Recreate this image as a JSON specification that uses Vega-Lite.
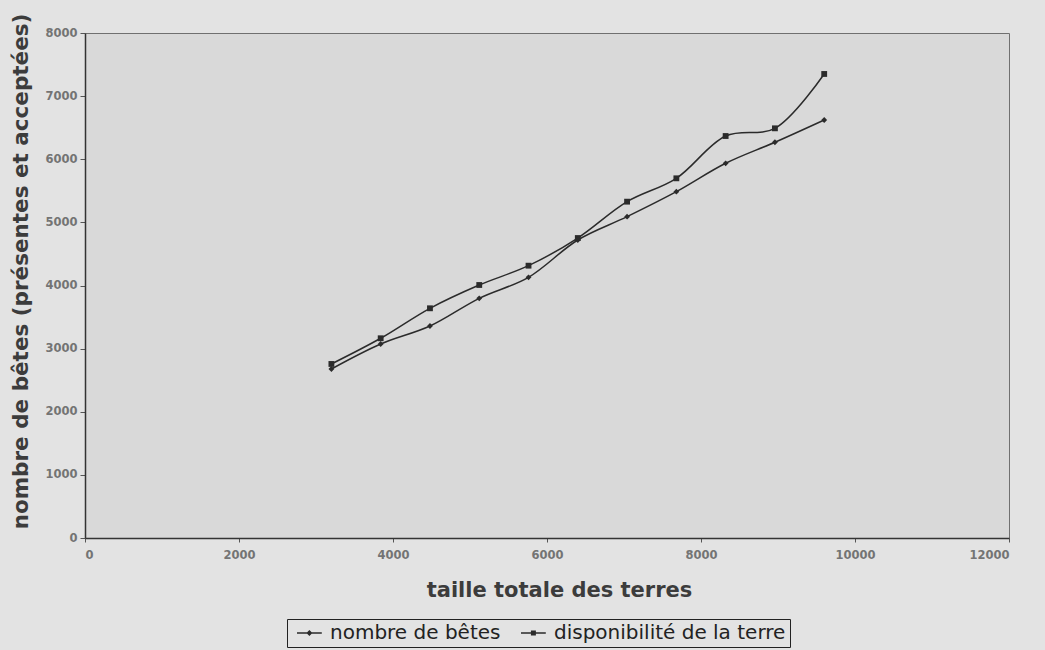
{
  "$schema": "https://vega.github.io/schema/vega-lite/v6.json",
  "width": 924,
  "height": 505,
  "autosize": {"type": "none"},
  "padding": {"left": 85, "top": 33, "right": 36, "bottom": 112},
  "background": "#e3e3e3",
  "config": {
    "view": {"fill": "#d9d9d9", "stroke": "#707070", "strokeWidth": 1},
    "font": "DejaVu Sans"
  },
  "data": {
    "values": [
      {"taille": 3200, "serie": "nombre de bêtes", "valeur": 2677},
      {"taille": 3840, "serie": "nombre de bêtes", "valeur": 3073},
      {"taille": 4480, "serie": "nombre de bêtes", "valeur": 3358},
      {"taille": 5120, "serie": "nombre de bêtes", "valeur": 3797},
      {"taille": 5760, "serie": "nombre de bêtes", "valeur": 4130},
      {"taille": 6400, "serie": "nombre de bêtes", "valeur": 4721},
      {"taille": 7040, "serie": "nombre de bêtes", "valeur": 5090},
      {"taille": 7680, "serie": "nombre de bêtes", "valeur": 5486},
      {"taille": 8320, "serie": "nombre de bêtes", "valeur": 5936},
      {"taille": 8960, "serie": "nombre de bêtes", "valeur": 6269},
      {"taille": 9600, "serie": "nombre de bêtes", "valeur": 6622},
      {"taille": 3200, "serie": "disponibilité de la terre", "valeur": 2757},
      {"taille": 3840, "serie": "disponibilité de la terre", "valeur": 3164},
      {"taille": 4480, "serie": "disponibilité de la terre", "valeur": 3639},
      {"taille": 5120, "serie": "disponibilité de la terre", "valeur": 4008},
      {"taille": 5760, "serie": "disponibilité de la terre", "valeur": 4314},
      {"taille": 6400, "serie": "disponibilité de la terre", "valeur": 4752},
      {"taille": 7040, "serie": "disponibilité de la terre", "valeur": 5328},
      {"taille": 7680, "serie": "disponibilité de la terre", "valeur": 5698},
      {"taille": 8320, "serie": "disponibilité de la terre", "valeur": 6368},
      {"taille": 8960, "serie": "disponibilité de la terre", "valeur": 6490},
      {"taille": 9600, "serie": "disponibilité de la terre", "valeur": 7351}
    ]
  },
  "encoding": {
    "x": {
      "field": "taille",
      "type": "quantitative",
      "scale": {"domain": [0, 12000], "nice": false},
      "axis": {
        "title": "taille totale des terres",
        "titleFont": "DejaVu Sans",
        "titleFontWeight": "bold",
        "titleFontSize": 21,
        "titleColor": "#3c3c3c",
        "titlePadding": 19,
        "titleX": 474,
        "values": [0, 2000, 4000, 6000, 8000, 10000, 12000],
        "format": "d",
        "labelFont": "DejaVu Sans",
        "labelFontWeight": "bold",
        "labelFontSize": 11.5,
        "labelColor": "#747474",
        "labelPadding": 7,
        "domainColor": "#333333",
        "domainWidth": 1.5,
        "tickColor": "#555555",
        "tickSize": 4,
        "grid": false
      }
    },
    "y": {
      "field": "valeur",
      "type": "quantitative",
      "scale": {"domain": [0, 8000], "nice": false},
      "axis": {
        "title": "nombre de bêtes (présentes et acceptées)",
        "titleFont": "DejaVu Sans",
        "titleFontWeight": "bold",
        "titleFontSize": 21.5,
        "titleColor": "#3c3c3c",
        "titlePadding": 12,
        "titleY": 238,
        "values": [0, 1000, 2000, 3000, 4000, 5000, 6000, 7000, 8000],
        "format": "d",
        "labelFont": "DejaVu Sans",
        "labelFontWeight": "bold",
        "labelFontSize": 11.5,
        "labelColor": "#747474",
        "labelPadding": 3,
        "domainColor": "#333333",
        "domainWidth": 1.5,
        "tickColor": "#555555",
        "tickSize": 5,
        "grid": false
      }
    }
  },
  "layer": [
    {
      "mark": {"type": "line", "interpolate": "catmull-rom", "color": "#2b2b2b", "strokeWidth": 1.5},
      "encoding": {"detail": {"field": "serie", "type": "nominal"}}
    },
    {
      "mark": {"type": "point", "filled": true, "color": "#2b2b2b", "opacity": 1, "size": 34},
      "encoding": {
        "shape": {
          "field": "serie",
          "type": "nominal",
          "scale": {"domain": ["nombre de bêtes", "disponibilité de la terre"], "range": ["diamond", "square"]},
          "legend": null
        }
      }
    },
    {
      "mark": {"type": "point", "filled": true, "color": "#2b2b2b", "opacity": 0, "size": 256},
      "encoding": {
        "shape": {
          "field": "serie",
          "type": "nominal",
          "scale": {
            "domain": ["nombre de bêtes", "disponibilité de la terre"],
            "range": [
              "M-0.5,-0.08H2.6V0.08H-0.5ZM1.05,-0.375L1.425,0L1.05,0.375L0.675,0Z",
              "M-0.5,-0.08H2.6V0.08H-0.5ZM0.74,-0.31H1.36V0.31H0.74Z"
            ]
          },
          "legend": {
            "title": null,
            "orient": "none",
            "legendX": 202,
            "legendY": 586,
            "direction": "horizontal",
            "padding": 4,
            "strokeColor": "#222222",
            "fillColor": "#e3e3e3",
            "labelFont": "DejaVu Sans",
            "labelFontSize": 20,
            "labelColor": "#222222",
            "labelOffset": 19,
            "labelLimit": 400,
            "symbolSize": 256,
            "symbolOpacity": 1,
            "symbolFillColor": "#2b2b2b",
            "symbolStrokeColor": "#2b2b2b",
            "symbolStrokeWidth": 0,
            "columnPadding": 14
          }
        }
      }
    }
  ],
  "resolve": {"scale": {"shape": "independent"}, "legend": {"shape": "independent"}}
}
